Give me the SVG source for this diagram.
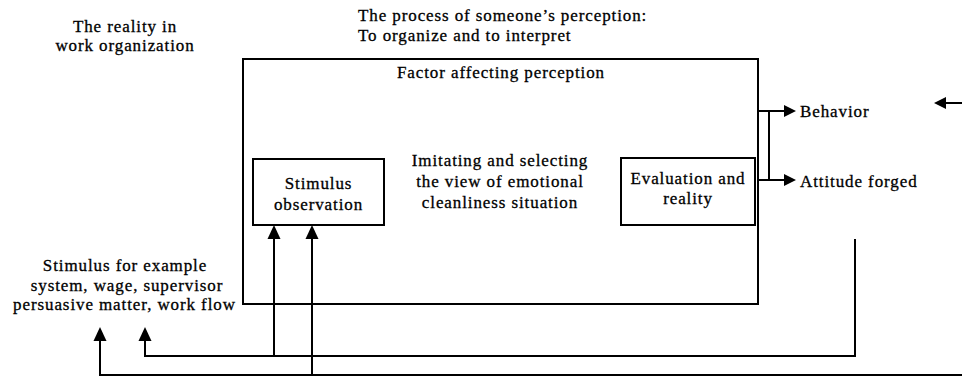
<svg xmlns="http://www.w3.org/2000/svg" width="962" height="377" viewBox="0 0 962 377" font-family="Liberation Serif">
<style>
text{font-family:'Liberation Serif',serif;font-size:17px;letter-spacing:0.9px;fill:#000;stroke:#000;stroke-width:0.3px}
.c{text-anchor:middle}
.box{fill:none;stroke:#000;stroke-width:2}
.ln{fill:none;stroke:#000;stroke-width:2}
.ah{fill:#000}
</style>
<rect width="962" height="377" fill="#fff"/>
<g id="reality">
<text class="c" x="125" y="32">The reality in</text>
<text class="c" x="125" y="51">work organization</text>
</g>
<g id="process">
<text x="358" y="21">The process of someone’s perception:</text>
<text x="358" y="41">To organize and to interpret</text>
</g>
<g id="factor">
<rect class="box" x="243" y="59" width="515" height="245"/>
<text class="c" x="501" y="78">Factor affecting perception</text>
</g>
<g id="stimulus-observation">
<rect class="box" x="253" y="159" width="131" height="66"/>
<text class="c" x="318.5" y="189">Stimulus</text>
<text class="c" x="318.5" y="210">observation</text>
</g>
<g id="imitating">
<text class="c" x="500" y="166">Imitating and selecting</text>
<text class="c" x="500" y="187">the view of emotional</text>
<text class="c" x="500" y="208">cleanliness situation</text>
</g>
<g id="evaluation">
<rect class="box" x="621" y="158" width="134" height="67"/>
<text class="c" x="688" y="184">Evaluation and</text>
<text class="c" x="688" y="204">reality</text>
</g>
<g id="behavior">
<text x="800" y="117">Behavior</text>
</g>
<g id="attitude">
<text x="800" y="187">Attitude forged</text>
</g>
<g id="stimulus">
<text class="c" x="125" y="271">Stimulus for example</text>
<text class="c" x="127" y="291">system, wage, supervisor</text>
<text class="c" x="124.5" y="310">persuasive matter, work flow</text>
</g>
<g id="connectors">
<path class="ln" d="M758 111H784M769 111V180M758 180H784"/>
<polygon class="ah" points="784,105 796,111 784,117"/>
<polygon class="ah" points="784,174 796,180 784,186"/>
<path class="ln" d="M962 103H946"/>
<polygon class="ah" points="946,97 934,103 946,109"/>
<path class="ln" d="M274 356V238M312 375V238"/>
<polygon class="ah" points="267.5,239 274,225 280.5,239"/>
<polygon class="ah" points="305.5,239 312,225 318.5,239"/>
<path class="ln" d="M145 340V356H855V239"/>
<polygon class="ah" points="138.5,341 145,327 151.5,341"/>
<path class="ln" d="M100 340V375H962"/>
<polygon class="ah" points="93.5,341 100,327 106.5,341"/>
</g>
</svg>
